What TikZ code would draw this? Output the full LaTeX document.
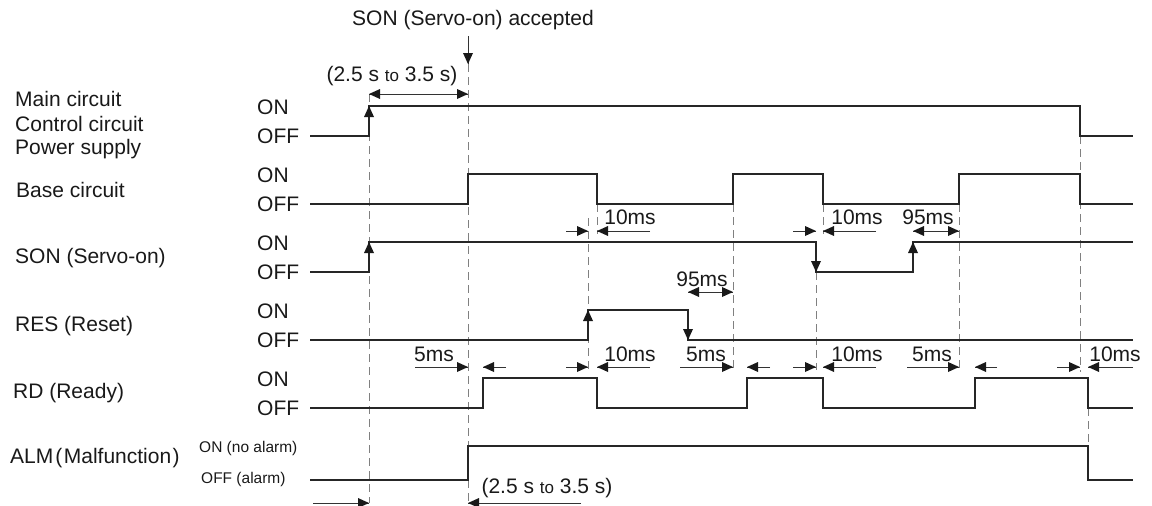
\documentclass[tikz,border=0pt]{standalone}
\usepackage{fontspec}
\setmainfont{Liberation Sans}
\begin{document}
\begin{tikzpicture}[x=1pt,y=-1pt,
  wave/.style={line width=1.2pt, draw=black!85, line join=miter},
  guide/.style={line width=1pt, draw=black!50, dash pattern=on 8pt off 5pt},
  dim/.style={line width=0.8pt, draw=black!80},
  head/.style={fill=black!90},
  lbl/.style={font=\fontsize{21}{23}\selectfont, anchor=west, inner sep=0pt, text=black!90},
  st/.style={font=\fontsize{21}{23}\selectfont, anchor=west, inner sep=0pt, text=black!90},
  sst/.style={font=\fontsize{15.5}{17}\selectfont, anchor=west, inner sep=0pt, text=black!90},
  ms/.style={font=\fontsize{21}{23}\selectfont, inner sep=0pt, text=black!90},
]
\useasboundingbox (0,0) rectangle (1152,506);
\newcommand{\tto}{{\fontsize{17}{19}\selectfont to}}
% arrow heads: tip at (#1,#2)
\newcommand{\hR}[2]{\fill[head] (#1,#2) -- ++(-11,-5) -- ++(0,10) -- cycle;}
\newcommand{\hL}[2]{\fill[head] (#1,#2) -- ++(11,-5) -- ++(0,10) -- cycle;}
\newcommand{\hU}[2]{\fill[head] (#1,#2) -- ++(-5,11) -- ++(10,0) -- cycle;}
\newcommand{\hD}[2]{\fill[head] (#1,#2) -- ++(-5,-11) -- ++(10,0) -- cycle;}

% ---------- guide (dashed) lines ----------
\draw[guide] (369,94) -- (369,503);
\draw[guide] (468,64) -- (468,503);
\draw[guide] (588,218) -- (588,372);
\draw[guide] (597,204) -- (597,234);
\draw[guide] (733,204) -- (733,370);
\draw[guide] (816,272) -- (816,370);
\draw[guide] (823,204) -- (823,234);
\draw[guide] (959,204) -- (959,370);
\draw[guide] (1080,136) -- (1080,372);
\draw[guide] (1088,408) -- (1088,446);

% ---------- left labels ----------
\node[lbl] (lmain) at (15,99) {Main circuit};
\node[lbl] (lctrl) at (15,124) {Control circuit};
\node[lbl] (lpow) at (15,149) {Power supply};
\node[lbl] (lbase) at (16,190) {Base circuit};
\node[lbl] (lson) at (15,258) {SON (Servo-on)};
\node[lbl] (lres) at (15,326) {RES (Reset)};
\node[lbl] (lrd) at (13,393) {RD (Ready)};
\node[lbl] (lalm) at (10,458) {ALM\hspace{2pt}(\hspace{1.5pt}Malfunction\hspace{1.5pt})};

% ---------- state labels ----------
\node[st] (on1) at (257,107) {ON};
\node[st] (off1) at (257,136) {OFF};
\node[st] (on2) at (257,175) {ON};
\node[st] (off2) at (257,204) {OFF};
\node[st] (on3) at (257,243) {ON};
\node[st] (off3) at (257,272) {OFF};
\node[st] (on4) at (257,311) {ON};
\node[st] (off4) at (257,340) {OFF};
\node[st] (on5) at (257,379) {ON};
\node[st] (off5) at (257,408) {OFF};
\node[sst] (on6) at (199,448) {ON (no alarm)};
\node[sst] (off6) at (201,479) {OFF (alarm)};

% ---------- waveforms ----------
% Main circuit
\draw[wave] (310,136) -- (369,136) -- (369,106) -- (1080,106) -- (1080,136) -- (1133,136);
\hU{369}{106}
% Base circuit
\draw[wave] (310,204) -- (468,204) -- (468,174) -- (597,174) -- (597,204) -- (733,204) -- (733,174)
  -- (823,174) -- (823,204) -- (959,204) -- (959,174) -- (1080,174) -- (1080,204) -- (1133,204);
% SON
\draw[wave] (310,272) -- (369,272) -- (369,242) -- (816,242) -- (816,272) -- (913,272) -- (913,242) -- (1133,242);
\hU{369}{242}
\hD{816}{272}
\hU{913}{242}
% RES
\draw[wave] (310,340) -- (588,340) -- (588,310) -- (688,310) -- (688,340) -- (1133,340);
\hU{588}{310}
\hD{688}{340}
% RD
\draw[wave] (310,408) -- (483,408) -- (483,378) -- (597,378) -- (597,408) -- (747,408) -- (747,378)
  -- (823,378) -- (823,408) -- (975,408) -- (975,378) -- (1088,378) -- (1088,408) -- (1133,408);
% ALM
\draw[wave] (310,480) -- (468,480) -- (468,446) -- (1088,446) -- (1088,480) -- (1133,480);

% ---------- top annotation ----------
\node[ms] (acc) at (473,20) {SON (Servo-on) accepted};
\coordinate (accarrow) at (468,36);
\coordinate (accend) at (468,64);
\draw[dim,line width=1pt] (accarrow) -- (accend);
\hD{468}{64}
\node[ms] (t1) at (392,76) {(2.5 s \tto\ 3.5 s)};
\draw[dim] (369,94) -- (468,94);
\hL{369}{94} \hR{468}{94}

% ---------- row between Base and SON ----------
\draw[dim] (566,231) -- (588,231); \hR{588}{231}
\draw[dim] (650,231) -- (597,231); \hL{597}{231}
\node[ms] (m1) at (630,217) {10ms};
\draw[dim] (793,231) -- (816,231); \hR{816}{231}
\draw[dim] (876,231) -- (823,231); \hL{823}{231}
\node[ms] (m2) at (857,217) {10ms};
\draw[dim] (913,231) -- (959,231); \hL{913}{231} \hR{959}{231}
\node[ms] (m3) at (928,217) {95ms};

% ---------- RES 95ms ----------
\draw[dim] (688,292) -- (733,292); \hL{688}{292} \hR{733}{292}
\node[ms] (m4) at (702,279) {95ms};

% ---------- row between RES and RD ----------
\draw[dim] (415,367) -- (468,367); \hR{468}{367}
\draw[dim] (506,367) -- (483,367); \hL{483}{367}
\node[ms] (m5) at (434,354) {5ms};
\draw[dim] (566,367) -- (588,367); \hR{588}{367}
\draw[dim] (650,367) -- (597,367); \hL{597}{367}
\node[ms] (m6) at (630,354) {10ms};
\draw[dim] (680,367) -- (733,367); \hR{733}{367}
\draw[dim] (770,367) -- (747,367); \hL{747}{367}
\node[ms] (m7) at (706,354) {5ms};
\draw[dim] (793,367) -- (816,367); \hR{816}{367}
\draw[dim] (876,367) -- (823,367); \hL{823}{367}
\node[ms] (m8) at (857,354) {10ms};
\draw[dim] (907,367) -- (959,367); \hR{959}{367}
\draw[dim] (997,367) -- (975,367); \hL{975}{367}
\node[ms] (m9) at (932,354) {5ms};
\draw[dim] (1057,367) -- (1080,367); \hR{1080}{367}
\draw[dim] (1133,367) -- (1088,367); \hL{1088}{367}
\node[ms] (m10) at (1115,354) {10ms};

% ---------- bottom ----------
\draw[dim] (313,503) -- (369,503); \hR{369}{503}
\draw[dim] (581,503) -- (468,503); \hL{468}{503}
\node[ms] (t2) at (547,488) {(2.5 s \tto\ 3.5 s)};
\end{tikzpicture}
\end{document}
